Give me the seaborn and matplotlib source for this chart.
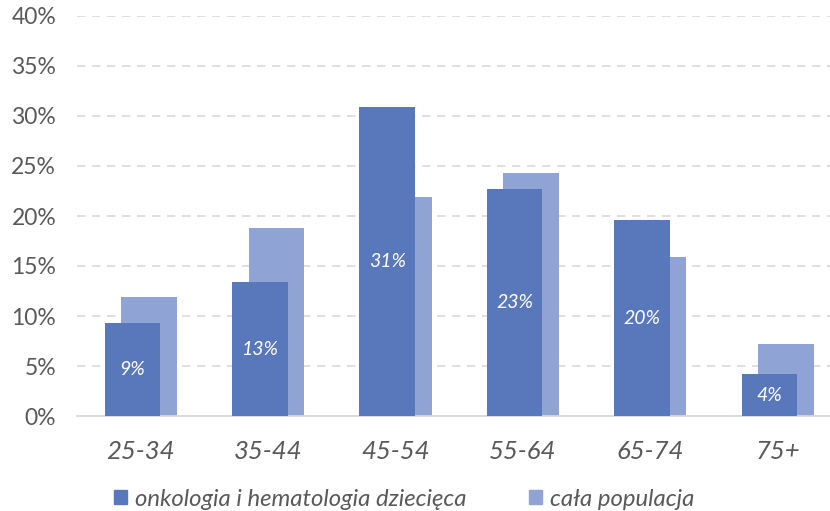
import numpy as np
import pandas as pd
import matplotlib
matplotlib.use('Agg')
import matplotlib.pyplot as plt
import seaborn as sns
from matplotlib.patches import Patch

age_groups = ['25-34', '35-44', '45-54', '55-64', '65-74', '75+']
onkologia = [9.3, 13.4, 30.9, 22.7, 19.6, 4.2]   # onkologia i hematologia dziecięca
populacja = [11.9, 18.8, 21.9, 24.3, 15.9, 7.2]  # cała populacja
y_ticks = [0, 5, 10, 15, 20, 25, 30, 35, 40]

dark = '#5977BB'
light = '#8FA4D4'
grey_txt = '#595959'

sns.set_theme(style='white')
plt.rcParams['font.family'] = ['Lato', 'DejaVu Sans']

df = pd.DataFrame({'wiek': age_groups, 'onk': onkologia, 'pop': populacja})

fig = plt.figure(figsize=(8.30, 5.11), dpi=100)
ax = fig.add_axes([77 / 830, 95 / 511, 764.4 / 830, 400 / 511])

bw = 0.436
off = 0.065

# light bars first (behind), then dark ones on top
sns.barplot(data=df, x='wiek', y='pop', color=light, width=bw, saturation=1, ax=ax, zorder=2)
n_light = len(ax.patches)
sns.barplot(data=df, x='wiek', y='onk', color=dark, width=bw, saturation=1, ax=ax, zorder=3)

for i, p in enumerate(ax.patches):
    shift = off if i < n_light else -off
    p.set_x(p.get_x() + shift)
    p.set_linewidth(0)

# value labels on the dark bars
for i, v in enumerate(onkologia):
    ax.text(i - off, v / 2, f'{round(v)}%', ha='center', va='center',
            color='white', fontsize=14, fontstyle='italic', zorder=4)

ax.set_xlim(-0.5, 5.5)
ax.set_ylim(0, 40)
ax.set_yticks(y_ticks)
ax.set_yticklabels([f'{t}%' for t in y_ticks])
ax.set_xlabel('')
ax.set_ylabel('')

ax.yaxis.grid(True, color='#d9d9d9', linestyle=(0, (5, 4)), linewidth=1.2)
ax.set_axisbelow(True)
for s in ['top', 'right', 'left']:
    ax.spines[s].set_visible(False)
ax.spines['bottom'].set_color('#d9d9d9')
ax.spines['bottom'].set_linewidth(1.3)

ax.tick_params(axis='y', length=0, labelsize=16.5, labelcolor=grey_txt, pad=15)
ax.tick_params(axis='x', length=0, labelsize=18.5, labelcolor=grey_txt, pad=17)
for lab in ax.get_xticklabels():
    lab.set_fontstyle('italic')

handles = [Patch(color=dark, label='onkologia i hematologia dziecięca'),
           Patch(color=light, label='cała populacja')]
leg = fig.legend(handles=handles, loc='center left', bbox_to_anchor=(97 / 830, 1 - 499 / 511),
                 ncol=2, frameon=False, handlelength=0.55, handleheight=0.55, handletextpad=0.35,
                 columnspacing=2.6, borderpad=0.2, prop={'size': 17.2, 'style': 'italic'})
for t in leg.get_texts():
    t.set_color(grey_txt)

plt.savefig('out.png', dpi=100)
plt.close()
